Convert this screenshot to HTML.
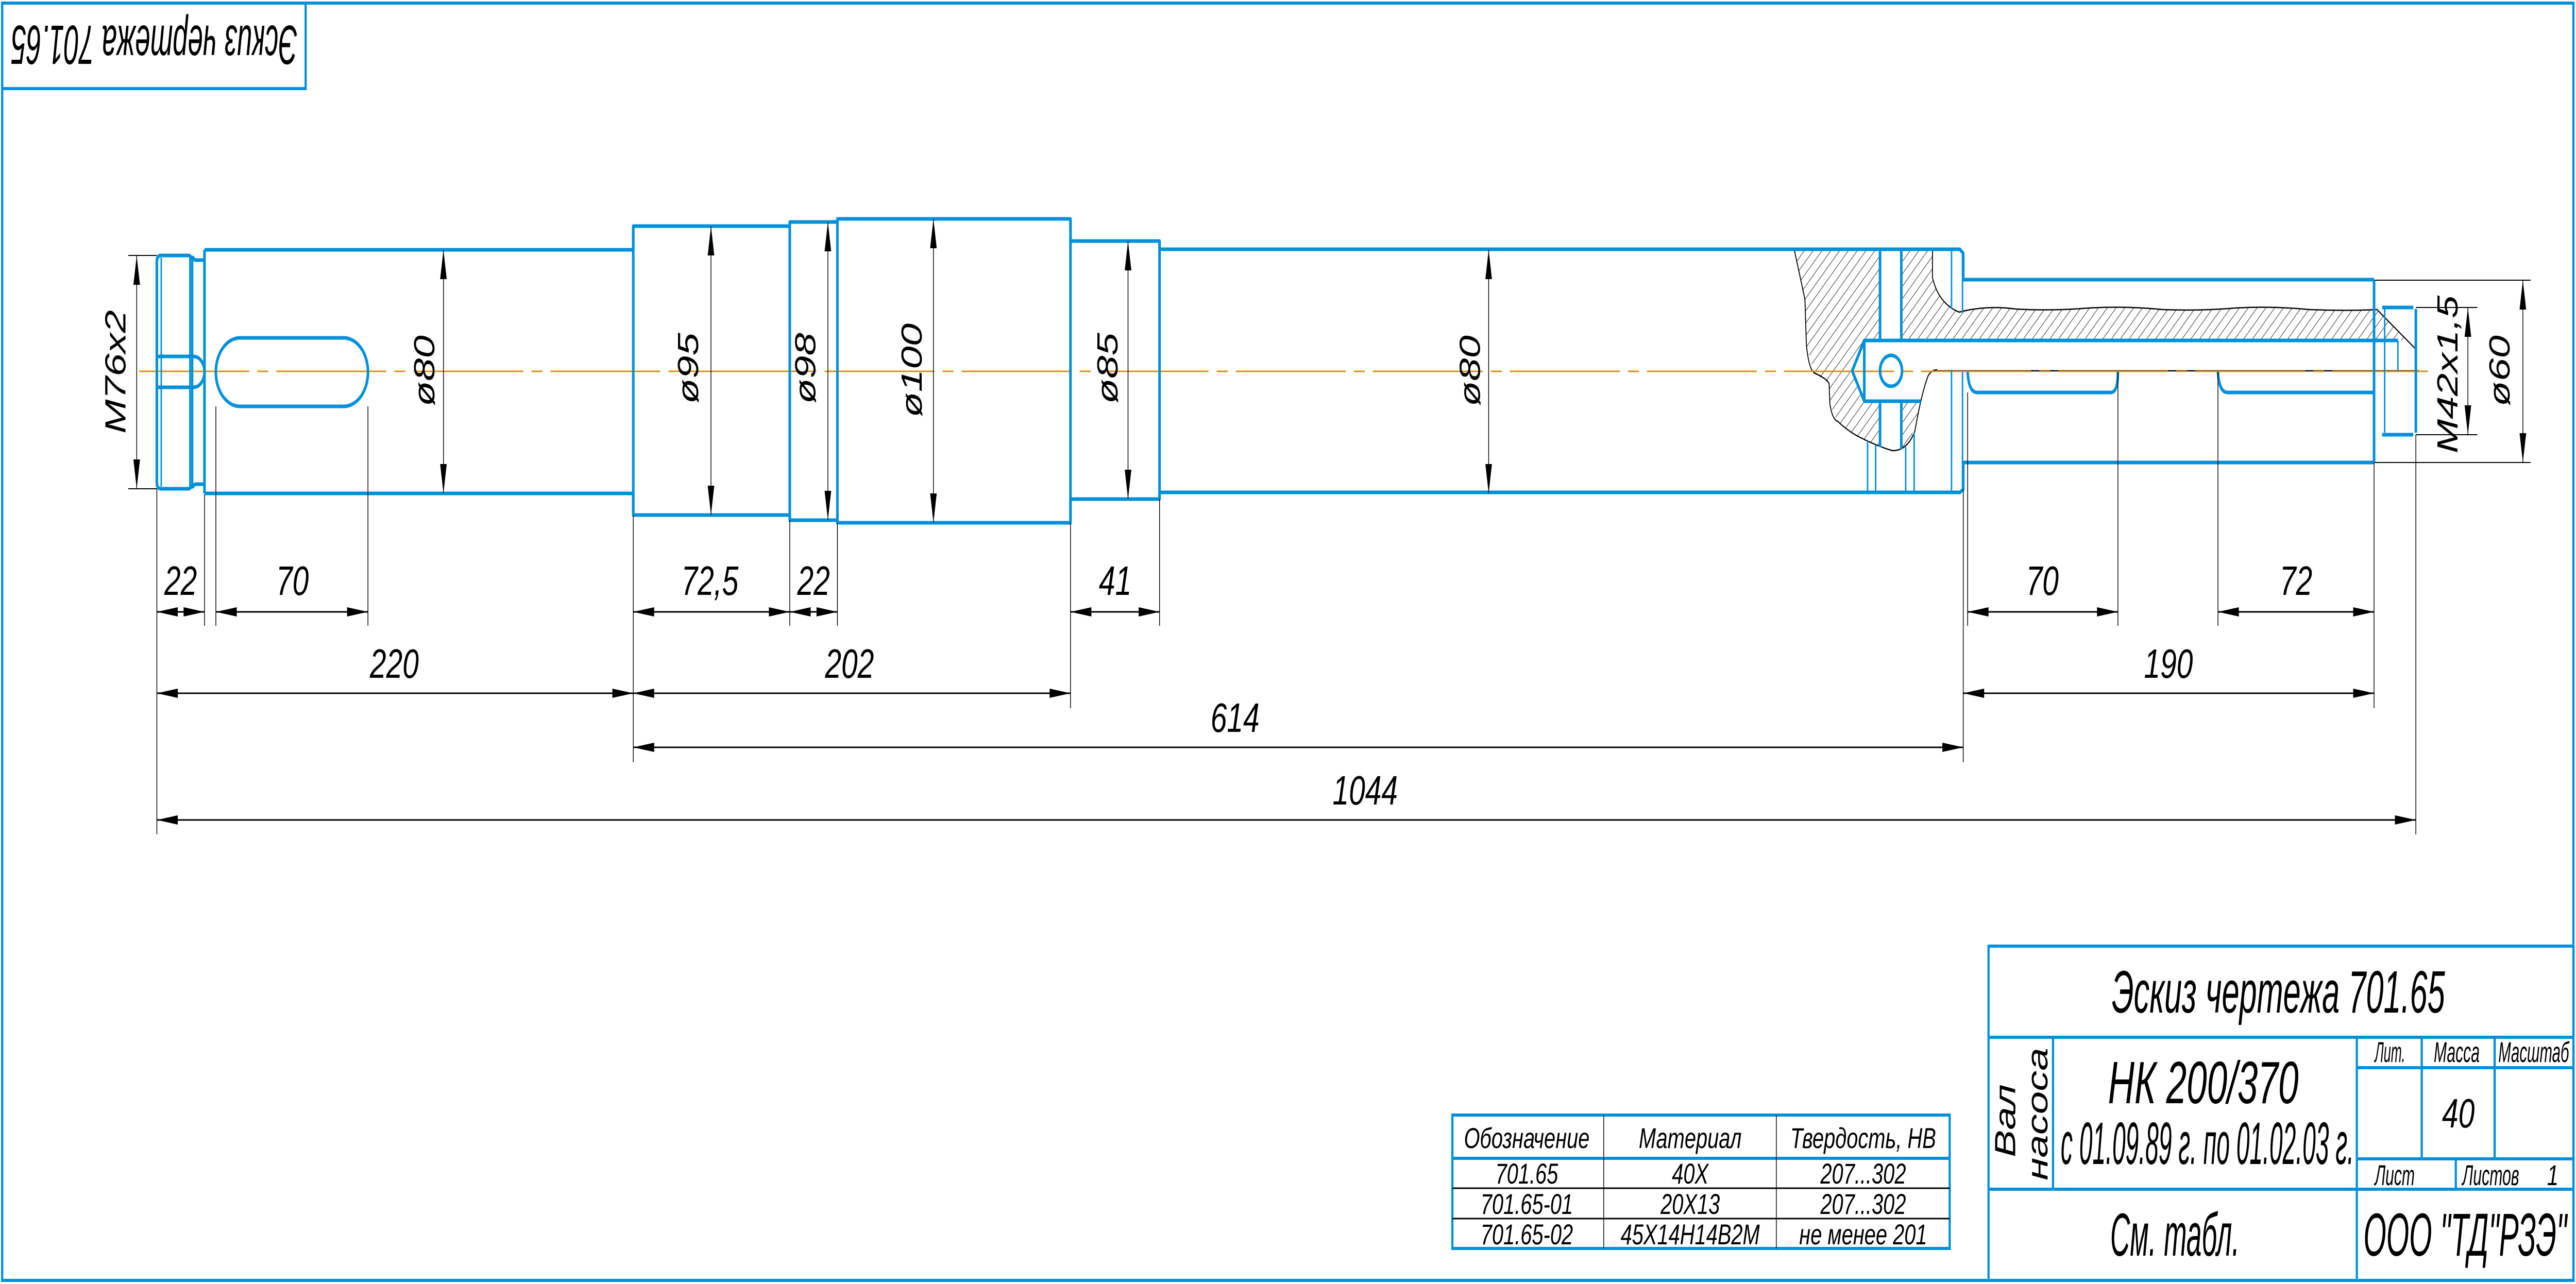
<!DOCTYPE html>
<html><head><meta charset="utf-8"><style>
html,body{margin:0;padding:0;background:#fff;width:100%;height:100%;overflow:hidden}
svg{display:block;width:100vw;height:100vh}
text{font-family:"Liberation Sans Narrow","Liberation Sans",sans-serif;font-style:italic;fill:#000}
</style></head><body>
<svg viewBox="0 0 7029 2493" preserveAspectRatio="none" xmlns="http://www.w3.org/2000/svg">
<defs>
<pattern id="h" patternUnits="userSpaceOnUse" width="17" height="17" patternTransform="rotate(45)">
<line x1="0" y1="0" x2="0" y2="17" stroke="#000" stroke-width="2"/>
</pattern>
</defs>
<rect width="7029" height="2493" fill="#fff"/>
<rect x="6" y="6" width="7016" height="2480" fill="none" stroke="#0090da" stroke-width="6"/>
<rect x="6" y="6" width="828" height="166" fill="none" stroke="#0090da" stroke-width="6"/>
<text transform="translate(421,50) rotate(180)" text-anchor="middle" font-size="108" textLength="780" lengthAdjust="spacingAndGlyphs">Эскиз чертежа 701.65</text>

<g fill="url(#h)" stroke="none">
<path d="M4896,485 H5130 V661 H5087 L5054,720 L5087,779 H5130 V866 L5064,845 L5014,818 L4993,784 L4991,745 L4950,724 L4929,669 L4925,581 Z"/>
<path d="M5188,485 H5273 V539 Q5290,590 5346,606 Q5420,592 5500,600 Q5600,604 5700,598 Q5800,594 5900,601 Q6000,604 6100,598 Q6200,594 6300,601 Q6400,604 6486,601 L6567,661 H5188 Z"/>
<path d="M5188,779 H5241 Q5230,830 5200,870 L5188,872 Z"/>
</g>
<g fill="none" stroke="#000" stroke-width="2.5">
<path d="M4896,485 L4925,581 L4929,669 Q4935,715 4950,724 Q4985,735 4991,745 L4993,784 Q5000,815 5014,818 Q5040,835 5064,845 Q5120,866 5164,875 Q5205,875 5225,837 Q5243,764 5261,730 Q5270,718 5286,718"/>
<path d="M5273,485 V539 Q5290,590 5346,606 Q5420,592 5500,600 Q5600,604 5700,598 Q5800,594 5900,601 Q6000,604 6100,598 Q6200,594 6300,601 Q6400,604 6486,601 L6592,678"/>
<line x1="5286" y1="720" x2="6600" y2="720"/>
</g>
<line x1="380" y1="721" x2="6625" y2="721" stroke="#d8901a" stroke-width="3" stroke-dasharray="300 22 30 22"/>

<g fill="none" stroke="#0090da" stroke-width="7" stroke-linejoin="round">
<rect x="428" y="496" width="96" height="453" rx="10"/>
<path d="M524,498 L532,505 H558 M524,947 L532,940 H558"/>
<path d="M428,692 H528 A30,30 0 0 1 528,752 H428"/>
<rect x="589" y="656" width="415" height="133" rx="66"/>
<path d="M558,485 H1728 V439 H2155 V431 H2285 V425 H2921 V468 H3164 V484 H5348 L5357,492 V543 H6478"/>
<path d="M558,958 H1728 V1000 H2155 V1010 H2285 V1015 H2921 V969 H3164 V956 H5348 L5357,950 V898 H6478"/>
<path d="M558,485 V958 M1728,439 V1000 M2155,431 V1010 M2285,425 V1015 M2921,425 V1015 M3164,468 V969"/>
<path d="M6478,543 V898"/>
<path d="M6500,597 H6585 M6500,844 H6585 M6592,600 V840"/>
<path d="M5087,661 H6543 M5087,779 H5241 M5087,661 L5054,720 L5087,779 Z"/>
<path d="M5130,485 V661 M5188,485 V661 M5130,779 V868 M5188,779 V872"/>
<circle cx="5160" cy="720" r="30"/>
<path d="M5369,722 Q5372,762 5395,762 H5760 Q5779,762 5779,722"/>
<path d="M6052,722 Q6055,762 6078,762 H6478"/>
</g>
<g fill="none" stroke="#0090da" stroke-width="4">
<path d="M440,500 V945 M518,500 V945"/>
<path d="M5325,485 V600 M5325,718 V956 M5355,492 V607 M5355,722 V950"/>
<path d="M5096,856 V956 M5118,865 V956 M5200,868 V956 M5223,840 V956"/>
<path d="M6543,661 V720 M6507,600 V840"/>
</g>

<g stroke="#000" stroke-width="2" fill="none">
<path d="M428,949 V1620 M558,960 V1215 M589,789 V1215 M1004,789 V1215 M1728,1000 V1480 M2155,1010 V1215 M2285,1015 V1215 M2921,1015 V1375 M3164,969 V1215 M5357,950 V1480 M5369,762 V1215 M5779,722 V1215 M6052,722 V1215 M6478,898 V1375 M6592,844 V1620"/>
<path d="M350,496 H428 M350,949 H428 M6592,597 H6760 M6592,844 H6760 M6480,544 H6905 M6480,898 H6905"/>
</g>
<g stroke="#000" stroke-width="3" fill="none">
<path d="M428,1188 H558 M589,1188 H1004 M1728,1188 H2155 M2155,1188 H2285 M2921,1188 H3164 M5369,1188 H5779 M6052,1188 H6478"/>
<path d="M428,1346 H1728 M1728,1346 H2921 M5357,1346 H6478 M1728,1451 H5357 M428,1592 H6592"/>
</g>
<g stroke="#000" stroke-width="2" fill="none">
<path d="M373,496 V949 M1210,485 V958 M1940,439 V1000 M2259,431 V1010 M2547,425 V1015 M3078,468 V969 M4062,485 V958 M6734,597 V844 M6884,544 V898"/>
</g>
<g fill="#000">
<path d="M428,1188 l57,-9 v18z M558,1188 l-57,-9 v18z M589,1188 l57,-9 v18z M1004,1188 l-57,-9 v18z M1728,1188 l57,-9 v18z M2155,1188 l-57,-9 v18z M2155,1188 l57,-9 v18z M2285,1188 l-57,-9 v18z M2921,1188 l57,-9 v18z M3164,1188 l-57,-9 v18z M5369,1188 l57,-9 v18z M5779,1188 l-57,-9 v18z M6052,1188 l57,-9 v18z M6478,1188 l-57,-9 v18z"/>
<path d="M428,1346 l57,-9 v18z M1728,1346 l-57,-9 v18z M1728,1346 l57,-9 v18z M2921,1346 l-57,-9 v18z M5357,1346 l57,-9 v18z M6478,1346 l-57,-9 v18z M1728,1451 l57,-9 v18z M5357,1451 l-57,-9 v18z M428,1592 l57,-9 v18z M6592,1592 l-57,-9 v18z"/>
<path d="M373,496 l-9,57 h18z M373,949 l-9,-57 h18z M1210,485 l-9,57 h18z M1210,958 l-9,-57 h18z M1940,439 l-9,57 h18z M1940,1000 l-9,-57 h18z M2259,431 l-9,57 h18z M2259,1010 l-9,-57 h18z M2547,425 l-9,57 h18z M2547,1015 l-9,-57 h18z M3078,468 l-9,57 h18z M3078,969 l-9,-57 h18z M4062,485 l-9,57 h18z M4062,958 l-9,-57 h18z M6734,597 l-9,57 h18z M6734,844 l-9,-57 h18z M6884,544 l-9,57 h18z M6884,898 l-9,-57 h18z"/>
</g>
<g font-size="80" text-anchor="middle">
<text x="493" y="1155">22</text>
<text x="798" y="1155">70</text>
<text x="1937" y="1155">72,5</text>
<text x="2220" y="1155">22</text>
<text x="3043" y="1155">41</text>
<text x="5573" y="1155">70</text>
<text x="6265" y="1155">72</text>
<text x="1076" y="1316">220</text>
<text x="2318" y="1316">202</text>
<text x="5917" y="1316">190</text>
<text x="3370" y="1421">614</text>
<text x="3725" y="1562">1044</text>
<text transform="translate(342,722) rotate(-90)">M76x2</text>
<text transform="translate(1185,720) rotate(-90)">ø80</text>
<text transform="translate(1905,715) rotate(-90)">ø95</text>
<text transform="translate(2225,715) rotate(-90)">ø98</text>
<text transform="translate(2515,719) rotate(-90)">ø100</text>
<text transform="translate(3049,715) rotate(-90)">ø85</text>
<text transform="translate(4038,720) rotate(-90)">ø80</text>
<text transform="translate(6706,727) rotate(-90)">M42x1,5</text>
<text transform="translate(6848,720) rotate(-90)">ø60</text>
</g>

<g fill="none">
<rect x="3963" y="2165" width="1357" height="259" stroke="#0090da" stroke-width="6"/>
<line x1="3963" y1="2249" x2="5320" y2="2249" stroke="#0090da" stroke-width="6"/>
<path d="M3963,2307 H5320 M3963,2366 H5320" stroke="#000" stroke-width="3"/>
<path d="M4376,2165 V2424 M4847,2165 V2424" stroke="#000" stroke-width="2"/>
</g>
<g font-size="56" text-anchor="middle">
<text x="4166" y="2229">Обозначение</text>
<text x="4612" y="2229">Материал</text>
<text x="5084" y="2229">Твердость, НВ</text>
<text x="4166" y="2298">701.65</text>
<text x="4612" y="2298">40Х</text>
<text x="5084" y="2298">207...302</text>
<text x="4166" y="2357">701.65-01</text>
<text x="4612" y="2357">20Х13</text>
<text x="5084" y="2357">207...302</text>
<text x="4166" y="2416">701.65-02</text>
<text x="4612" y="2416">45Х14Н14В2М</text>
<text x="5084" y="2416">не менее 201</text>
</g>

<g fill="none" stroke="#0090da" stroke-width="6">
<rect x="5426" y="1837" width="1596" height="649"/>
<path d="M5426,2014 H7022 M5426,2309 H7022 M5602,2014 V2309 M6431,2014 V2486 M6608,2014 V2250 M6807,2014 V2250 M6431,2073 H7022 M6431,2250 H7022 M6701,2250 V2309"/>
</g>
<text x="6217" y="1966" font-size="116" text-anchor="middle" textLength="909" lengthAdjust="spacingAndGlyphs">Эскиз чертежа 701.65</text>
<text x="6012" y="2142" font-size="116" text-anchor="middle" textLength="520" lengthAdjust="spacingAndGlyphs">НК 200/370</text>
<text x="6023" y="2260" font-size="116" text-anchor="middle" textLength="800" lengthAdjust="spacingAndGlyphs">с 01.09.89 г. по 01.02.03 г.</text>
<text transform="translate(5499,2176) rotate(-90)" font-size="80" text-anchor="middle">Вал</text>
<text transform="translate(5587,2163) rotate(-90)" font-size="80" text-anchor="middle">насоса</text>
<g font-size="56">
<text x="6480" y="2062" textLength="83" lengthAdjust="spacingAndGlyphs">Лит.</text>
<text x="6641" y="2062" textLength="125" lengthAdjust="spacingAndGlyphs">Масса</text>
<text x="6817" y="2062" textLength="193" lengthAdjust="spacingAndGlyphs">Масштаб</text>
<text x="6480" y="2301" textLength="109" lengthAdjust="spacingAndGlyphs">Лист</text>
<text x="6719" y="2301" textLength="155" lengthAdjust="spacingAndGlyphs">Листов</text>
<text x="6950" y="2301">1</text>
</g>
<text x="6708" y="2189" font-size="80" text-anchor="middle">40</text>
<text x="5758" y="2438" font-size="118" textLength="353" lengthAdjust="spacingAndGlyphs">См. табл.</text>
<text x="6449" y="2438" font-size="118" textLength="555" lengthAdjust="spacingAndGlyphs">ООО "ТД"РЗЭ"</text>
</svg>
</body></html>
